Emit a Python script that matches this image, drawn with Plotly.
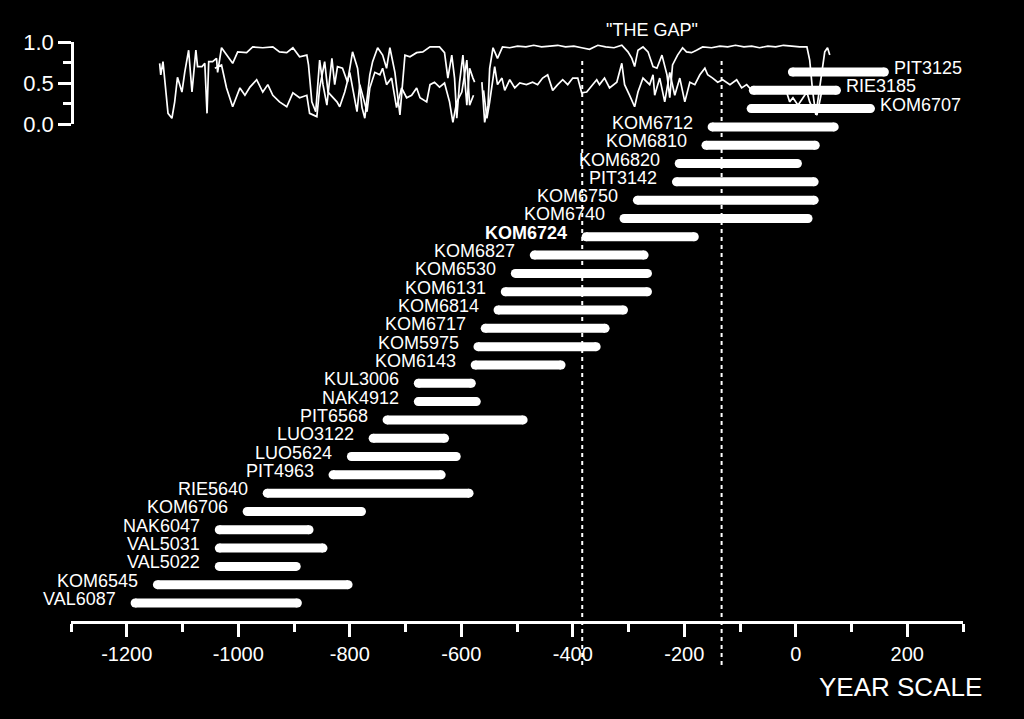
import plotly.graph_objects as go

# ---- bar data (top to bottom as drawn) ----
samples = ["PIT3125", "RIE3185", "KOM6707", "KOM6712", "KOM6810", "KOM6820", "PIT3142",
           "KOM6750", "KOM6740", "KOM6724", "KOM6827", "KOM6530", "KOM6131", "KOM6814",
           "KOM6717", "KOM5975", "KOM6143", "KUL3006", "NAK4912", "PIT6568", "LUO3122",
           "LUO5624", "PIT4963", "RIE5640", "KOM6706", "NAK6047", "VAL5031", "VAL5022",
           "KOM6545", "VAL6087"]
start_years = [-6, -76, -80, -150, -161, -209, -214, -284, -308, -376, -469, -503, -521, -534,
               -557, -570, -575, -677, -677, -733, -758, -797, -830, -948, -984, -1034, -1034,
               -1034, -1145, -1185]
end_years = [159, 73, 134, 69, 35, 3, 33, 33, 22, -182, -272, -266, -266, -309,
             -342, -358, -421, -582, -573, -489, -630, -609, -636, -586, -779, -873, -848,
             -896, -803, -894]
label_right = ["PIT3125", "RIE3185", "KOM6707"]
bold_labels = ["KOM6724"]

# ---- "the gap" boundaries ----
gap_years = [-383, -133]
gap_label = '"THE GAP"'

# ---- top panel curves (year, value) ----
curve_a_years = [-1141, -1139, -1135, -1132, -1126, -1119, -1114, -1109, -1101, -1096, -1089,
                 -1083, -1076, -1073, -1065, -1060, -1056, -1053, -1046, -1039, -1037, -1030,
                 -1010, -1001, -985, -974, -956, -938, -926, -913, -902, -890, -877, -874, -868,
                 -861, -854, -848, -841, -832, -827, -822, -813, -804, -795, -786, -778, -773,
                 -764, -759, -750, -741, -734, -728, -719, -710, -701, -692, -680, -669, -656,
                 -639, -630, -624, -617, -612, -608, -603, -597, -590, -585, -579, -576, None,
                 -563, -558, -552, -549, -543, -535, -526, -513, -499, -484, -470, -456, -441,
                 -427, -413, -398, -384, -370, -355, -341, -326, -312, -301, -294, -289, -283,
                 -274, -265, -256, -249, -240, -231, -226, -221, -212, -203, -196, -187, -178,
                 -167, -151, -136, -122, -108, -93, -79, -65, -50, -36, -22, -7, 7, 20, 25, 30,
                 36, 41, 47, 52, 57, 61]
curve_a_values = [0.74, 0.60, 0.76, 0.54, 0.13, 0.07, 0.27, 0.57, 0.39, 0.63, 0.90,
                  0.39, 0.90, 0.70, 0.70, 0.74, 0.13, 0.76, 0.76, 0.80, 0.63, 0.93,
                  0.74, 0.88, 0.87, 0.94, 0.93, 0.94, 0.88, 0.87, 0.93, 0.82, 0.84, 0.72, 0.27,
                  0.15, 0.78, 0.48, 0.23, 0.80, 0.48, 0.70, 0.68, 0.51, 0.88, 0.68, 0.20, 0.07,
                  0.60, 0.76, 0.93, 0.84, 0.68, 0.93, 0.63, 0.11, 0.84, 0.82, 0.87, 0.88, 0.94,
                  0.94, 0.87, 0.56, 0.84, 0.56, 0.07, 0.51, 0.84, 0.23, 0.68, 0.56, 0.51, None,
                  0.51, 0.02, 0.23, 0.68, 0.93, 0.80, 0.94, 0.93, 0.95, 0.94, 0.96, 0.94, 0.95,
                  0.96, 0.94, 0.95, 0.93, 0.91, 0.96, 0.94, 0.93, 0.96, 0.88, 0.80, 0.70, 0.90,
                  0.94, 0.88, 0.70, 0.68, 0.84, 0.60, 0.32, 0.72, 0.84, 0.93, 0.88, 0.87, 0.90,
                  0.94, 0.93, 0.95, 0.94, 0.96, 0.94, 0.95, 0.93, 0.95, 0.94, 0.96, 0.95, 0.94,
                  0.94, 0.78, 0.42, 0.11, 0.35, 0.66, 0.88, 0.93, 0.84]

curve_b_years = [-1042, -1030, -1021, -1010, -997, -988, -979, -967, -956, -947, -938, -926,
                 -913, -902, -890, -877, -872, -859, -854, -845, -839, -830, -823, -818, -809,
                 -800, -795, -787, -782, -769, -764, -755, -746, -741, -734, -725, -716, -707,
                 -698, -689, -680, -674, -662, -656, -648, -639, -630, -621, -615, -608, -599,
                 -590, -585, -578, None,
                 -560, -554, -549, -540, -535, -527, -522, -513, -504, -495, -483, -472, -463,
                 -454, -445, -436, -427, -418, -409, -400, -391, -384, -375, -364, -357, -352,
                 -343, -334, -321, -312, -307, -298, -289, -283, -274, -262, -256, -253, -244,
                 -235, -226, -217, -208, -199, -190, -181, -172, -163, -158, -149, -140, -131,
                 -118, -106, -97, -88, -79, -65, -52, -41, -32, -23, -16, -11, -5, 4, 13, 20,
                 25, 30, 38, 43, 48]
curve_b_values = [0.68, 0.72, 0.44, 0.21, 0.44, 0.35, 0.45, 0.54, 0.39, 0.48, 0.35, 0.27,
                  0.21, 0.38, 0.32, 0.35, 0.13, 0.09, 0.44, 0.76, 0.39, 0.32, 0.27, 0.21, 0.39,
                  0.63, 0.44, 0.15, 0.48, 0.15, 0.44, 0.63, 0.60, 0.68, 0.48, 0.56, 0.20, 0.44,
                  0.32, 0.35, 0.44, 0.32, 0.27, 0.48, 0.51, 0.45, 0.50, 0.27, 0.02, 0.27, 0.39,
                  0.78, 0.23, 0.35, None,
                  0.41, 0.07, 0.27, 0.70, 0.48, 0.56, 0.41, 0.54, 0.44, 0.50, 0.48, 0.51, 0.48,
                  0.56, 0.60, 0.41, 0.48, 0.54, 0.48, 0.56, 0.56, 0.38, 0.39, 0.48, 0.54, 0.48,
                  0.56, 0.44, 0.51, 0.74, 0.48, 0.35, 0.21, 0.39, 0.56, 0.48, 0.60, 0.35, 0.56,
                  0.27, 0.63, 0.35, 0.56, 0.27, 0.51, 0.48, 0.60, 0.68, 0.60, 0.56, 0.51, 0.54,
                  0.48, 0.54, 0.44, 0.48, 0.41, 0.44, 0.45, 0.41, 0.44, 0.45, 0.38, 0.27, 0.32,
                  0.23, 0.32, 0.39, 0.27, 0.20, 0.11, 0.27, 0.44]

x_tick_vals = [-1200, -1000, -800, -600, -400, -200, 0, 200]
y_tick_vals = [0.0, 0.5, 1.0]
y_tick_text = ["0.0", "0.5", "1.0"]
x_title = "YEAR SCALE"

FONT = "Liberation Sans, Arial, sans-serif"
WHITE = "#ffffff"
W, H = 1024, 719

n = len(samples)
rows = [n - 1 - i for i in range(n)]

fig = go.Figure()

# top panel curves
for xs, ys in [(curve_a_years, curve_a_values), (curve_b_years, curve_b_values)]:
    fig.add_trace(go.Scatter(x=xs, y=ys, xaxis="x", yaxis="y2", mode="lines",
                             line=dict(color=WHITE, width=1.7), connectgaps=False,
                             hoverinfo="skip", showlegend=False))

# bars
for name, s, e, r in zip(samples, start_years, end_years, rows):
    fig.add_trace(go.Scatter(x=[s, e], y=[r, r], mode="lines+markers",
                             line=dict(color=WHITE, width=9),
                             marker=dict(color=WHITE, size=9, line=dict(width=0)),
                             hoverinfo="skip", showlegend=False))

annotations = []
for name, s, e, r in zip(samples, start_years, end_years, rows):
    txt = f"<b>{name}</b>" if name in bold_labels else name
    if name in label_right:
        annotations.append(dict(x=e, y=r, xref="x", yref="y", text=txt, showarrow=False,
                                xanchor="left", yanchor="middle", xshift=9, yshift=4,
                                borderpad=0,
                                font=dict(family=FONT, size=18, color=WHITE)))
    else:
        annotations.append(dict(x=s, y=r, xref="x", yref="y", text=txt, showarrow=False,
                                xanchor="right", yanchor="middle", xshift=-18, yshift=4,
                                borderpad=0,
                                font=dict(family=FONT, size=18, color=WHITE)))

annotations.append(dict(x=sum(gap_years) / 2, y=(H - 30) / H, xref="x", yref="paper",
                        text=gap_label, showarrow=False, xanchor="center", yanchor="middle",
                        font=dict(family=FONT, size=18, color=WHITE)))
annotations.append(dict(x=984 / W, y=(H - 687) / H, xref="paper", yref="paper",
                        text=x_title, showarrow=False, xanchor="right", yanchor="middle",
                        font=dict(family=FONT, size=26, color=WHITE)))

shapes = []
for g in gap_years:
    shapes.append(dict(type="line", xref="x", yref="paper", x0=g, x1=g,
                       y0=(H - 665) / H, y1=(H - 58) / H,
                       line=dict(color=WHITE, width=2, dash="4px,4px")))

# row scale: row 0 at pixel 603, row 29 at pixel 72
px_per_row = (603 - 72) / (n - 1)
r0 = -(H - 603) / px_per_row
r1 = r0 + H / px_per_row

fig.update_layout(
    template="none",
    width=W, height=H,
    paper_bgcolor="#000000", plot_bgcolor="rgba(0,0,0,0)",
    margin=dict(l=0, r=0, t=0, b=0, pad=0, autoexpand=False),
    showlegend=False,
    xaxis=dict(domain=[71 / W, 963 / W], range=[-1300, 300], anchor="free",
               position=(H - 622) / H, showgrid=False, zeroline=False, automargin=False,
               showline=True, linecolor=WHITE, linewidth=2.5,
               ticks="outside", ticklen=13, tickwidth=2.5, tickcolor=WHITE,
               tickvals=x_tick_vals, ticktext=[str(v) for v in x_tick_vals],
               tickfont=dict(family=FONT, size=20, color=WHITE),
               minor=dict(dtick=100, tick0=-1300, ticks="outside", ticklen=8, tickwidth=2.5,
                          tickcolor=WHITE, showgrid=False)),
    yaxis=dict(domain=[0, 1], range=[r0, r1], visible=False, fixedrange=True,
               automargin=False, showgrid=False, zeroline=False),
    yaxis2=dict(domain=[(H - 124) / H, (H - 42) / H], range=[0, 1], anchor="free",
                position=72 / W, side="left", showgrid=False, zeroline=False,
                automargin=False,
                showline=True, linecolor=WHITE, linewidth=2.5,
                ticks="outside", ticklen=13, tickwidth=2.5, tickcolor=WHITE,
                tickvals=y_tick_vals, ticktext=y_tick_text,
                tickfont=dict(family=FONT, size=22, color=WHITE),
                minor=dict(tickvals=[0.25, 0.75], ticks="outside", ticklen=8, tickwidth=2.5,
                           tickcolor=WHITE, showgrid=False)),
    annotations=annotations,
    shapes=shapes,
)

fig.write_html("out.html")
